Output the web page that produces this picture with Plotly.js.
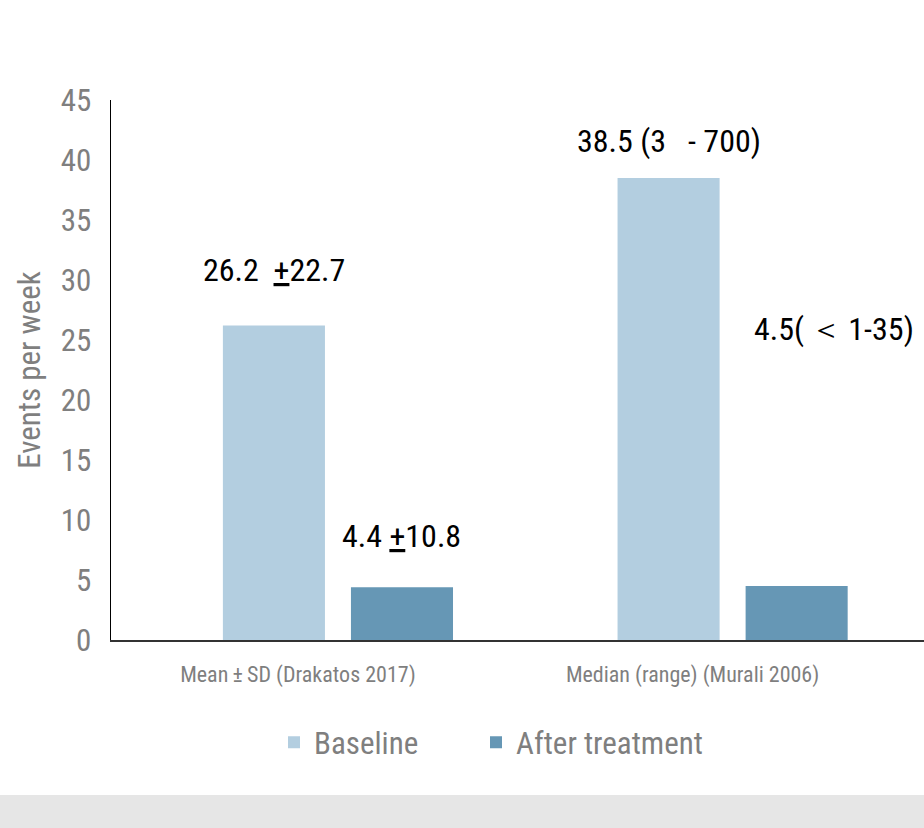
<!DOCTYPE html>
<html>
<head>
<meta charset="utf-8">
<script src="https://cdn.plot.ly/plotly-3.0.1.min.js"></script>
<style>html,body{margin:0;padding:0;background:#fff;}#chart{width:924px;height:828px;}</style>
</head>
<body>
<div id="chart"></div>
<script>
const categories = ["Mean\u2009\u00b1\u2009SD (Drakatos 2017)", "Median (range) (Murali 2006)"];
const baseline = [26.2, 38.5];
const afterTreatment = [4.4, 4.5];
const baselineLabels = ["26.2\u00a0\u00a0<u>+</u>22.7", "38.5 (3\u00a0\u00a0\u00a0- 700)"];
const afterLabels = ["4.4 <u>+</u>10.8", "4.5(\u2009\uff1c\u20091-35)"];
const yTicks = [0, 5, 10, 15, 20, 25, 30, 35, 40, 45];

const FONT = "'Roboto Condensed', 'DejaVu Sans Condensed', sans-serif";
const idx = categories.map((c, i) => i);
const W = 0.2586;

const traces = [
  {type: 'bar', name: 'Baseline', x: idx, y: baseline, width: W, offset: -0.2915,
   marker: {color: '#b3cee0'}, hoverinfo: 'none', legend: 'legend'},
  {type: 'bar', name: 'After treatment', x: idx, y: afterTreatment, width: W, offset: 0.033,
   marker: {color: '#6697b5'}, hoverinfo: 'none', legend: 'legend2'}
];

const yShiftB = [56, 37];
const yShiftA = [51, 257];
const xShiftA = [0, 37];
const annotations = [];
idx.forEach(i => {
  annotations.push({x: i - 0.2915 + W/2, y: baseline[i], xref: 'x', yref: 'y', text: baselineLabels[i],
    showarrow: false, yshift: yShiftB[i], font: {family: FONT, size: 32, color: '#000'}});
  annotations.push({x: i + 0.033 + W/2, y: afterTreatment[i], xref: 'x', yref: 'y', text: afterLabels[i],
    showarrow: false, yshift: yShiftA[i], xshift: xShiftA[i], font: {family: FONT, size: 32, color: '#000'}});
});

const legendStyle = {orientation: 'h', xanchor: 'left', y: -0.19, yanchor: 'middle',
  font: {family: FONT, size: 31, color: '#7f7f7f'}, itemwidth: 30, bgcolor: 'rgba(0,0,0,0)'};

const layout = {
  width: 924, height: 828,
  margin: {l: 111, r: 0, t: 100, b: 188},
  paper_bgcolor: '#fff', plot_bgcolor: '#fff',
  showlegend: true,
  legend: Object.assign({}, legendStyle, {x: (274 - 111) / 813}),
  legend2: Object.assign({}, legendStyle, {x: (476 - 111) / 813}),
  xaxis: {
    range: [-0.575, 1.485], tickmode: 'array', tickvals: idx, ticktext: categories,
    showline: true, linecolor: '#333', linewidth: 1.5, showgrid: false, zeroline: false,
    ticks: '', ticklabelshift: -40, ticklabelstandoff: 14,
    tickfont: {family: FONT, size: 22, color: '#7f7f7f'}, fixedrange: true
  },
  yaxis: {
    range: [0, 45], tickmode: 'array', tickvals: yTicks,
    showline: true, linecolor: '#000', linewidth: 1.5, showgrid: false, zeroline: false,
    ticks: '', ticklabelstandoff: 12,
    tickfont: {family: FONT, size: 31, color: '#7f7f7f'},
    title: {text: 'Events per week', font: {family: FONT, size: 31, color: '#7f7f7f'}, standoff: 11},
    fixedrange: true
  },
  shapes: [
    {type: 'rect', xref: 'paper', yref: 'paper', x0: -0.2, x1: 1.05, y0: -(795-640)/540, y1: -0.4,
     fillcolor: '#e6e6e6', line: {width: 0}, layer: 'below'}
  ],
  annotations: annotations
};

Plotly.newPlot('chart', traces, layout, {displayModeBar: false, staticPlot: true});
</script>
</body>
</html>
